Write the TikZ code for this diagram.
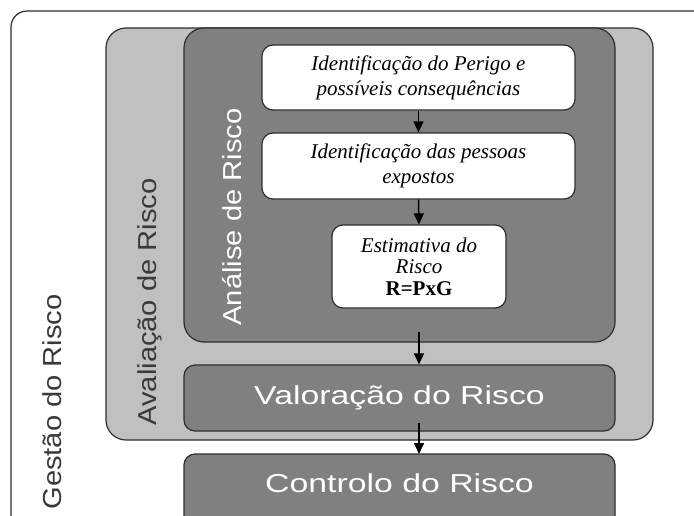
\documentclass[tikz,border=0pt]{standalone}
\usepackage{fontspec}
\setmainfont{Liberation Serif}
\newfontfamily\labelfont{Liberation Sans}
\usetikzlibrary{arrows.meta}
\definecolor{lightbox}{HTML}{C0C0C0}
\definecolor{darkbox}{HTML}{808080}
\definecolor{edgecol}{HTML}{2E2E2E}
\definecolor{labelcol}{HTML}{3A3A3A}
\newcommand{\widetext}[1]{\scalebox{1.3}[1]{#1}}
\newcommand{\longtext}[1]{\scalebox{1.12}[1]{#1}}
\tikzset{
  panel/.style={draw=edgecol, line width=1.2pt, rounded corners=#1},
  panel/.default=20pt,
  whitebox/.style={panel=11pt, fill=white, align=center, inner sep=0pt,
    font=\fontsize{21}{25}\selectfont\itshape, text=black},
  graybox/.style={panel=11pt, fill=darkbox, inner sep=0pt,
    font=\fontsize{26}{30}\labelfont, text=white},
  vlabel/.style={rotate=90, inner sep=0pt, font=\fontsize{26}{28}\labelfont},
  flow/.style={line width=1.5pt, -{Triangle[width=10pt,length=11pt]}}
}
\begin{document}
\begin{tikzpicture}[x=1pt,y=-1pt]
\useasboundingbox (0,0) rectangle (694,515);
\clip (0,0) rectangle (694,515);
\fill[white] (0,0) rectangle (694,515);
% Gestao do Risco
\draw[panel=16pt, fill=white] (11,11) rectangle (740,560);
\node[vlabel, text=labelcol] (gestao) at (52,402) {\longtext{Gestão do Risco}};
% Avaliacao
\node[panel, fill=lightbox, minimum width=547pt, minimum height=412pt] (aval) at (379.5,234) {};
\node[vlabel, text=labelcol] (avallab) at (150,302) {\longtext{Avaliação de Risco}};
% Analise
\node[panel, fill=darkbox, minimum width=431pt, minimum height=314pt] (anal) at (399.5,185) {};
\node[vlabel, text=white] (anallab) at (232,217) {\longtext{Análise de Risco}};
% inner steps
\node[whitebox, minimum width=313pt, minimum height=65pt] (perigo) at (418.5,77.5)
  {Identificação do Perigo e\\possíveis consequências};
\node[whitebox, minimum width=313pt, minimum height=66pt] (pessoas) at (418.5,166)
  {Identificação das pessoas\\expostos};
\node[whitebox, minimum width=174pt, minimum height=83pt,
  font=\fontsize{21}{21.5}\selectfont\itshape] (estim) at (419,266.5)
  {Estimativa do\\Risco\\\textbf{\upshape R=PxG}};
% Valoracao
\node[graybox, minimum width=431pt, minimum height=66pt] (valor) at (399.5,398)
  {\raisebox{3pt}{\widetext{Valoração do Risco}}};
% Controlo (cut off at the bottom)
\draw[panel=11pt, fill=darkbox] (184,454) rectangle (615,560);
\node[inner sep=0pt, font=\fontsize{26}{30}\labelfont, text=white] (control) at (399.5,483)
  {\widetext{Controlo do Risco}};
\coordinate (ctrltop) at (419,454);
\coordinate (analout) at (419,332);
\coordinate (valout) at (419,423);
% arrows
\draw[flow] (perigo.south) -- (pessoas.north);
\draw[flow] (pessoas.south) -- (estim.north);
\draw[flow] (analout) -- (analout |- valor.north);
\draw[flow] (valout) -- (ctrltop);
\end{tikzpicture}
\end{document}
